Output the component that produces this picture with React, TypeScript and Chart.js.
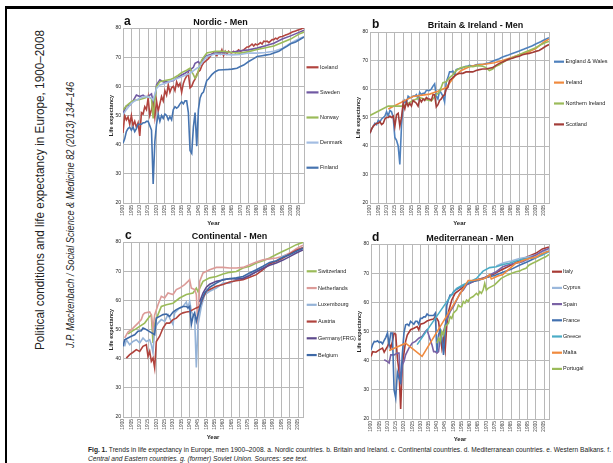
import React, { useEffect, useRef } from "react";
import { Chart, registerables } from "chart.js";
Chart.register(...registerables);

type P = [number, number][];

// ---------- tick labels ----------
const yearTicks = [1900, 1905, 1910, 1915, 1920, 1925, 1930, 1935, 1940, 1945, 1950, 1955, 1960, 1965, 1970, 1975, 1980, 1985, 1990, 1995, 2000, 2005];
const lifeTicks = [20, 30, 40, 50, 60, 70, 80];

// ---------- a. Nordic ----------
const iceland: P = [[1900,44],[1901,50],[1902,48.5],[1903,49.5],[1904,47],[1905,50],[1906,46.5],[1907,48],[1908,46],[1909,47.5],[1910,43],[1911,51],[1912,50.5],[1913,53],[1914,52],[1915,56],[1916,50],[1917,52],[1918,55],[1919,49.5],[1920,55],[1921,51.5],[1922,54],[1923,56.5],[1924,55],[1925,58.5],[1926,57],[1927,60.5],[1928,58],[1929,59.5],[1930,60],[1931,58.5],[1932,61.5],[1933,60],[1934,61],[1935,58],[1936,61],[1937,62.5],[1938,63.5],[1939,64.5],[1940,59.5],[1941,60],[1942,61.5],[1943,62.5],[1944,64],[1945,65],[1946,65.5],[1947,67],[1948,68],[1949,68.5],[1950,69],[1951,69.5],[1952,70.2],[1953,71],[1954,71.5],[1955,71],[1956,70.5],[1957,71.5],[1958,71],[1959,72.5],[1960,70.5],[1961,72],[1962,71],[1963,72],[1964,71.5],[1965,71.5],[1966,72],[1967,71.5],[1968,72],[1969,72.5],[1970,72],[1972,72.5],[1974,73.5],[1975,73.5],[1976,74],[1977,74.5],[1978,73.8],[1979,74.5],[1980,74.2],[1981,74.5],[1982,75],[1983,74.5],[1984,75.5],[1985,75.4],[1986,75.5],[1987,75],[1988,75.5],[1989,76],[1990,76],[1991,76.5],[1992,76.2],[1993,76.8],[1994,77],[1995,77.1],[1996,77.3],[1997,77.6],[1998,77.8],[1999,78],[2000,78.3],[2001,78.6],[2002,78.8],[2003,79],[2004,79.2],[2005,79.4],[2006,79.6],[2007,79.9],[2008,80]];
const sweden: P = [[1900,50.7],[1902,53.3],[1904,53.5],[1905,54.2],[1906,55],[1908,57],[1910,56.5],[1912,57],[1913,56.5],[1915,56.5],[1916,57],[1917,57.4],[1918,54.7],[1919,55.5],[1920,60.5],[1922,62.2],[1924,61.5],[1925,61.6],[1927,61.5],[1930,62],[1932,62.8],[1935,63.9],[1937,64.5],[1940,65.6],[1942,66.5],[1943,67.9],[1945,68.5],[1946,67.5],[1948,69.5],[1950,70.5],[1955,71.4],[1960,71.6],[1965,71.7],[1970,72.2],[1975,72.5],[1980,73.1],[1985,73.9],[1990,74.8],[1995,76.2],[2000,77.3],[2005,78.5],[2008,79.2]];
const norway: P = [[1900,51.9],[1902,53.3],[1905,54.7],[1907,55.2],[1910,55.5],[1913,56],[1915,56.5],[1917,55.8],[1918,49],[1919,55.3],[1920,59.9],[1922,61.6],[1925,62],[1928,62.3],[1930,62.8],[1933,63.8],[1935,64.7],[1938,65.5],[1940,66.2],[1941,65],[1942,64],[1943,62.8],[1944,63.5],[1945,65.5],[1946,67.5],[1947,69.1],[1950,71.4],[1955,72],[1960,72],[1965,71.6],[1970,71.4],[1975,71.9],[1980,72.6],[1985,73.2],[1990,73.8],[1995,75],[2000,76.2],[2005,77.9],[2008,78.6]];
const denmark: P = [[1900,50.2],[1902,52],[1905,54.2],[1907,55],[1910,55.9],[1913,56.5],[1915,56.3],[1917,56],[1918,55.3],[1920,59.3],[1922,60.5],[1925,61],[1930,62.2],[1935,63.3],[1940,64.5],[1944,66.2],[1945,66.5],[1947,68],[1950,70.2],[1955,71.1],[1960,71],[1965,70.8],[1970,70.9],[1975,71.4],[1980,71.4],[1985,71.6],[1990,72],[1995,73],[2000,74.8],[2005,76.3],[2008,77]];
const finland: P = [[1900,40.5],[1901,42],[1902,44.5],[1903,45.5],[1904,46],[1905,45],[1906,46],[1907,44.5],[1908,45.5],[1909,47],[1910,47],[1911,47],[1912,47.5],[1913,47.5],[1914,48],[1915,48],[1916,46.5],[1917,45],[1918,26.5],[1919,41],[1920,47],[1921,50.5],[1922,48],[1923,50],[1924,49],[1925,50.5],[1926,50],[1927,48.5],[1928,49.6],[1929,48.5],[1930,52],[1931,53],[1932,52.5],[1933,53],[1934,54],[1935,54.7],[1936,54],[1937,55],[1938,55],[1939,51],[1940,38],[1941,37],[1942,46],[1943,51],[1944,39.5],[1945,52],[1946,56],[1947,57.5],[1948,58],[1949,60],[1950,62],[1951,62.5],[1952,63.3],[1953,64],[1954,64.5],[1955,65],[1957,65.6],[1960,65.7],[1963,65.8],[1965,65.9],[1968,66.2],[1970,66.8],[1972,67.3],[1975,68.5],[1978,69.5],[1980,70.2],[1983,70.5],[1985,70.7],[1988,71],[1990,71.4],[1993,72],[1995,72.8],[1998,73.8],[2000,74.6],[2003,75.2],[2005,75.9],[2008,76.9]];

// ---------- b. Britain & Ireland ----------
const englandWales: P = [[1900,44.5],[1901,46],[1902,47],[1903,48],[1904,47.5],[1905,49],[1906,48.5],[1907,49.5],[1908,50],[1909,50.5],[1910,52],[1911,50.5],[1912,52.5],[1913,52],[1914,50],[1915,43],[1916,42],[1917,40],[1918,33.5],[1919,47],[1920,54.5],[1921,56],[1922,55],[1923,57.5],[1924,57],[1925,57],[1926,57.5],[1927,57.5],[1928,58],[1929,56.5],[1930,58.8],[1931,58],[1932,58.5],[1933,58.5],[1934,59.5],[1935,59.5],[1936,59.5],[1937,60],[1938,61],[1939,61.8],[1940,57.5],[1941,56.5],[1942,59.5],[1943,58.5],[1944,57.5],[1945,55.5],[1946,62.5],[1947,64],[1948,66],[1949,66],[1950,66.3],[1951,64.8],[1952,66.8],[1953,67],[1954,67.2],[1955,67.2],[1956,67.5],[1957,67.8],[1958,68],[1959,68],[1960,68.3],[1962,68],[1964,68.5],[1966,68.7],[1968,68.6],[1970,68.9],[1972,69.2],[1975,70],[1978,70.6],[1980,71.2],[1983,71.8],[1985,72.3],[1988,72.9],[1990,73.3],[1993,74],[1995,74.5],[1998,75.2],[2000,75.8],[2003,76.6],[2005,77.2],[2008,78]];
const ireland: P = [[1911,53],[1926,57.4],[1936,58.2],[1941,59.2],[1946,60.5],[1951,64.5],[1955,66.5],[1960,67.8],[1963,68.2],[1966,68.5],[1970,68.8],[1975,69.2],[1980,70],[1985,71],[1990,72],[1995,72.8],[2000,74.2],[2005,76.5],[2008,77.5]];
const northernIreland: P = [[1900,50.7],[1911,54],[1920,54],[1926,56],[1930,57],[1934,56.2],[1937,55.8],[1940,58],[1942,59],[1944,62.2],[1946,62.5],[1948,64],[1950,65],[1952,66.5],[1955,67.5],[1958,67.8],[1960,68],[1962,67.8],[1965,68.2],[1968,68],[1970,67.5],[1972,66.5],[1974,67],[1976,68],[1978,68.5],[1980,69.3],[1982,70],[1985,70.8],[1988,71.5],[1990,72],[1993,72.8],[1996,73.5],[2000,74.5],[2003,75.5],[2006,76.3],[2008,76.7]];
const scotland: P = [[1900,44.5],[1901,46],[1902,47],[1903,47.5],[1904,48],[1905,48],[1906,48.5],[1907,47.5],[1908,48],[1909,49.5],[1910,50],[1911,50],[1912,50.5],[1913,50],[1914,50.5],[1915,46.8],[1916,51],[1917,51.5],[1918,47],[1919,50],[1920,55],[1921,53],[1922,55.5],[1923,54],[1924,55],[1925,54],[1926,56],[1927,55.5],[1928,55],[1929,54],[1930,56.5],[1931,55.5],[1932,56.5],[1933,56],[1934,57],[1935,56.5],[1936,56.5],[1937,56],[1938,58],[1939,58],[1940,53.7],[1941,54.5],[1942,56],[1943,56.5],[1944,57.5],[1945,58],[1946,60],[1947,60.5],[1948,63],[1949,63.5],[1950,64],[1952,65],[1954,65.5],[1956,65.5],[1958,66],[1960,66],[1962,66],[1964,66.5],[1966,66.8],[1968,67],[1970,67],[1972,67.3],[1974,67.5],[1976,68.3],[1978,69],[1980,69.5],[1982,70],[1984,70.5],[1986,70.8],[1988,71.2],[1990,71.5],[1992,72],[1994,72.3],[1996,72.5],[1998,72.8],[2000,73.2],[2002,73.5],[2004,74.2],[2006,75],[2008,75.6]];

// ---------- c. Continental ----------
const switzerland: P = [[1903,48.5],[1906,49.6],[1908,50.3],[1910,51.1],[1913,52.2],[1916,54.5],[1917,54.9],[1918,45.4],[1919,52],[1921,55.1],[1923,57.9],[1926,58.5],[1930,59],[1934,60.8],[1938,62],[1942,62.5],[1944,64.2],[1945,63],[1948,66.5],[1952,67.7],[1956,68.2],[1960,69],[1964,69.6],[1968,69.9],[1972,71.1],[1976,71.7],[1980,72.8],[1984,73.6],[1988,74.5],[1992,75.7],[1996,76.8],[2000,77.9],[2004,79.1],[2008,79.9]];
const netherlands: P = [[1901,47.1],[1903,49.1],[1906,50.5],[1909,52.2],[1911,53.4],[1912,55.1],[1913,55.7],[1916,56],[1917,55],[1918,50],[1919,55],[1921,58.5],[1923,61.4],[1925,60.8],[1927,62.5],[1930,62],[1932,63.7],[1934,64.2],[1937,65.4],[1939,66.5],[1940,67.1],[1941,64.2],[1943,63.7],[1944,62],[1945,50],[1946,66.5],[1948,69.4],[1952,70.5],[1956,71.3],[1960,71.3],[1964,71.1],[1968,71.1],[1972,71.3],[1976,72.2],[1980,73.1],[1984,73.9],[1988,74.2],[1992,74.5],[1996,75.1],[2000,76.2],[2004,77.7],[2008,78.9]];
const luxembourg: P = [[1901,44.2],[1902,46.5],[1904,44.8],[1906,45.9],[1908,46.5],[1910,45.4],[1912,47.1],[1914,45.9],[1916,46.5],[1917,44.8],[1918,42],[1919,50.5],[1921,52.2],[1923,53.4],[1925,52.8],[1927,55.1],[1929,52.8],[1930,51.7],[1931,55.7],[1934,57.4],[1936,57.9],[1938,59.4],[1939,57.4],[1940,59.7],[1941,56.2],[1943,53.9],[1944,37],[1945,51.7],[1947,57.9],[1949,61.9],[1952,63.1],[1956,64.2],[1960,65.9],[1964,65.9],[1968,67.1],[1972,67.7],[1976,68.8],[1980,69.9],[1984,71.1],[1988,72.8],[1992,73.4],[1996,75.1],[2000,75.9],[2004,77],[2008,78.2]];
const austria: P = [[1902,40.2],[1904,41.4],[1906,42.2],[1908,43.1],[1910,42.5],[1912,44.2],[1914,44.8],[1915,40.8],[1916,42.5],[1917,39.1],[1918,40.2],[1919,36.8],[1920,45.9],[1922,47.7],[1924,50.5],[1926,52.2],[1928,52.2],[1930,53.4],[1932,53.9],[1934,55.1],[1936,55.7],[1938,56],[1940,56.2],[1942,56.8],[1944,57.4],[1946,57.9],[1948,60.8],[1950,63.1],[1952,63.7],[1956,64.8],[1960,65.4],[1964,66.3],[1968,66.7],[1972,67.1],[1976,67.9],[1980,68.8],[1984,70.5],[1988,72.5],[1992,73.4],[1996,74.5],[2000,75.9],[2004,77.2],[2008,78]];
const germany: P = [[1946,59.5],[1948,62.5],[1950,64.5],[1952,65.5],[1956,66.5],[1960,67],[1964,67.5],[1968,67.3],[1972,67.5],[1976,68.5],[1980,69.8],[1984,71],[1988,72],[1992,72.8],[1996,73.8],[2000,75],[2004,76.2],[2008,77.3]];
const belgium: P = [[1900,44.2],[1901,46.5],[1903,47.1],[1905,47.7],[1907,48.2],[1909,49.4],[1911,49.6],[1912,50.5],[1913,50.3],[1919,48.2],[1920,53.9],[1922,54.5],[1924,55.1],[1926,55.3],[1928,54.5],[1930,56],[1932,56.8],[1934,57.4],[1936,57.9],[1938,57.9],[1939,57.4],[1940,57.9],[1941,51.7],[1942,54.5],[1943,55.7],[1944,52.8],[1945,55.1],[1947,59.7],[1949,62.5],[1952,64.5],[1956,65.9],[1960,67.1],[1964,67.4],[1968,67.7],[1972,68.2],[1976,69.4],[1980,70.5],[1984,71.7],[1988,73],[1992,73.6],[1996,74.8],[2000,75.6],[2004,76.8],[2008,77.8]];

// ---------- d. Mediterranean ----------
const italy: P = [[1900,41.4],[1901,43.1],[1903,42.9],[1905,43.7],[1907,44.3],[1908,42.9],[1910,44.9],[1911,46],[1912,44.3],[1913,46.6],[1914,49.4],[1915,49.1],[1916,40.9],[1917,36.3],[1918,23.4],[1919,38.6],[1920,42.6],[1921,46.6],[1922,48.8],[1924,50.6],[1926,51.1],[1928,51.7],[1929,50.6],[1930,52.5],[1932,52.8],[1934,53.6],[1936,54],[1938,54.3],[1939,55.1],[1940,54.5],[1941,53.4],[1942,48.8],[1943,44.3],[1944,47.7],[1945,43.7],[1946,52.3],[1947,56.8],[1949,60.8],[1951,63.1],[1955,64.8],[1959,66.5],[1963,67.3],[1967,68.2],[1971,68.8],[1975,69.9],[1979,71.1],[1983,72.2],[1987,73.4],[1991,74.5],[1995,75.6],[2000,76.8],[2004,78.3],[2008,79]];
const cyprus: P = [[1976,72.5],[1980,73.5],[1985,74.2],[1990,75],[1995,75.5],[2000,76.2],[2005,77.6],[2008,78.4]];
const spain: P = [[1908,40.3],[1910,39.7],[1911,39.2],[1912,42],[1914,42],[1916,42.6],[1917,42.6],[1918,32],[1919,38.6],[1920,39.7],[1921,42],[1923,44.3],[1925,46],[1927,46.6],[1929,47.7],[1931,48.3],[1933,50],[1934,50.6],[1935,48.8],[1937,45.4],[1938,43.1],[1939,43.1],[1940,42.6],[1941,43.1],[1942,47.7],[1944,50],[1946,54],[1948,56.8],[1950,58.5],[1952,60.8],[1954,63.1],[1956,64.2],[1958,66],[1960,66.5],[1964,67.7],[1968,68.2],[1972,69.4],[1976,70.5],[1980,72.2],[1984,73],[1988,73.4],[1992,73.9],[1996,75.1],[2000,76.2],[2004,77.6],[2008,78.5]];
const france: P = [[1900,43.7],[1901,45.5],[1902,46.6],[1903,46.5],[1904,46.8],[1905,46.2],[1906,46.4],[1907,45.8],[1908,47],[1909,48],[1910,49.5],[1911,45.5],[1912,49.5],[1913,49.5],[1914,30],[1915,27.2],[1916,36],[1917,34],[1918,32.5],[1919,42],[1920,49.5],[1921,52.3],[1922,52.5],[1923,52],[1924,53.5],[1925,53],[1926,52.5],[1927,53.5],[1928,53.5],[1929,52.5],[1930,54.5],[1931,54.5],[1932,55],[1933,55],[1934,56],[1935,55.5],[1936,55.5],[1937,55.5],[1938,55.5],[1939,56.3],[1940,43],[1941,49],[1942,50.5],[1943,48],[1944,42],[1945,50.5],[1946,59],[1947,61],[1948,62.5],[1949,62.5],[1950,63.5],[1952,64.5],[1955,65.5],[1960,67],[1965,67.5],[1970,68.5],[1975,69.2],[1980,70.3],[1985,71.3],[1990,72.7],[1995,73.9],[2000,75.3],[2005,76.8],[2008,77.6]];
const greece: P = [[1928,45.5],[1950,63.5],[1952,64.8],[1956,66],[1960,67.1],[1964,68.2],[1968,70.7],[1972,71.9],[1976,72.2],[1980,73],[1984,73.4],[1988,74.2],[1992,74.8],[1996,75.1],[2000,75.3],[2004,76.2],[2008,77.4]];
const malta: P = [[1911,43.5],[1921,46],[1931,41.5],[1959,67.5],[1962,67.5],[1965,67.8],[1968,68],[1970,68.5],[1972,69.5],[1973,68],[1975,68.5],[1977,69],[1980,69.5],[1982,70.5],[1985,72],[1988,73.5],[1990,73.8],[1993,74.5],[1996,75],[2000,75.5],[2003,76.5],[2006,77.2],[2008,77.5]];
const portugal: P = [[1940,46],[1941,47.7],[1942,46.6],[1943,50],[1944,48.8],[1945,51.7],[1946,52.3],[1947,52.8],[1948,55.1],[1949,54.5],[1950,56.3],[1952,57.4],[1953,59.1],[1954,58.5],[1955,58.5],[1956,60.3],[1957,59.7],[1958,60.8],[1959,60.3],[1960,61.4],[1962,62],[1964,63.1],[1965,62.5],[1966,63.7],[1967,63.1],[1968,64.2],[1969,66.5],[1970,64.2],[1971,64.8],[1973,65.4],[1975,66],[1977,67.1],[1979,68.2],[1981,68.8],[1983,69.4],[1985,69.9],[1988,70.5],[1990,70.7],[1992,71.3],[1994,71.7],[1996,72.8],[1998,73.4],[2000,73.9],[2002,74.5],[2004,75.1],[2006,75.6],[2008,76.4]];

// ---------- layout / style ----------
const GRID = "#b8b8b8";
const FONT = "'Liberation Sans', Arial, sans-serif";

interface Series { label: string; color: string; data: P }
interface Panel {
  letter: string; title: string; series: Series[];
  left: number; top: number; w: number; h: number;
  pad: [number, number, number, number];
  titleX: number; titleY: number; letterX: number; letterY: number;
  legX: number; legLen: number; legTextX: number; legY0: number; legDy: number;
}

const panels: Panel[] = [
  {
    letter: "a", title: "Nordic - Men",
    series: [
      { label: "Iceland", color: "#b2443f", data: iceland },
      { label: "Sweden", color: "#7059a3", data: sweden },
      { label: "Norway", color: "#9bbb59", data: norway },
      { label: "Denmark", color: "#a3bde2", data: denmark },
      { label: "Finland", color: "#4674b0", data: finland },
    ],
    left: 95, top: 8, w: 265, h: 222, pad: [13, 20, 56, 3],
    titleX: 220.5, titleY: 25, letterX: 124, letterY: 24.5,
    legX: 306.5, legLen: 12, legTextX: 320, legY0: 67.3, legDy: 25.1,
  },
  {
    letter: "b", title: "Britain & Ireland - Men",
    series: [
      { label: "England & Wales", color: "#4f81bd", data: englandWales },
      { label: "Ireland", color: "#f08a3e", data: ireland },
      { label: "Northern Ireland", color: "#9bbb59", data: northernIreland },
      { label: "Scotland", color: "#a33d38", data: scotland },
    ],
    left: 340, top: 8, w: 273, h: 222, pad: [15, 24, 64, 3],
    titleX: 475.5, titleY: 28, letterX: 372, letterY: 28,
    legX: 554, legLen: 10, legTextX: 565.5, legY0: 61.7, legDy: 20.9,
  },
  {
    letter: "c", title: "Continental - Men",
    series: [
      { label: "Switzerland", color: "#9bbb59", data: switzerland },
      { label: "Netherlands", color: "#dc9b98", data: netherlands },
      { label: "Luxembourg", color: "#95b3d7", data: luxembourg },
      { label: "Austria", color: "#b0433d", data: austria },
      { label: "Germany(FRG)", color: "#5d4a8c", data: germany },
      { label: "Belgium", color: "#3d68a6", data: belgium },
    ],
    left: 95, top: 225, w: 265, h: 220, pad: [13, 17, 57, 4],
    titleX: 229.5, titleY: 238.5, letterX: 125, letterY: 238.5,
    legX: 306.7, legLen: 10, legTextX: 318, legY0: 271.3, legDy: 16.75,
  },
  {
    letter: "d", title: "Mediterranean - Men",
    series: [
      { label: "Italy", color: "#a83a35", data: italy },
      { label: "Cyprus", color: "#9bb8dc", data: cyprus },
      { label: "Spain", color: "#7a62a5", data: spain },
      { label: "France", color: "#4371b0", data: france },
      { label: "Greece", color: "#4bacc6", data: greece },
      { label: "Malta", color: "#f08a3e", data: malta },
      { label: "Portugal", color: "#9bbb59", data: portugal },
    ],
    left: 340, top: 225, w: 273, h: 220, pad: [16, 19, 64, 2],
    titleX: 470, titleY: 240.5, letterX: 372, letterY: 241,
    legX: 552, legLen: 10, legTextX: 563, legY0: 271.7, legDy: 16.2,
  },
];

function decor(p: Panel) {
  return {
    id: "decor" + p.letter,
    beforeDatasetsDraw(chart: any) {
      const { ctx, chartArea: a } = chart;
      ctx.save();
      ctx.strokeStyle = GRID;
      ctx.lineWidth = 1;
      const x = Math.round(a.right) + 0.5;
      ctx.beginPath();
      ctx.moveTo(x, a.top);
      ctx.lineTo(x, a.bottom);
      ctx.stroke();
      ctx.restore();
    },
    afterDraw(chart: any) {
      const ctx = chart.ctx as CanvasRenderingContext2D;
      const ox = p.left, oy = p.top;
      ctx.save();
      ctx.fillStyle = "#111";
      ctx.textBaseline = "alphabetic";
      ctx.textAlign = "center";
      ctx.font = `bold 9px ${FONT}`;
      ctx.fillText(p.title, p.titleX - ox, p.titleY - oy);
      ctx.textAlign = "left";
      ctx.font = `bold 12px ${FONT}`;
      ctx.fillText(p.letter, p.letterX - ox, p.letterY - oy);
      ctx.font = `5.5px ${FONT}`;
      ctx.textBaseline = "middle";
      chart.data.datasets.forEach((ds: any, i: number) => {
        const y = p.legY0 + i * p.legDy - oy;
        ctx.strokeStyle = ds.borderColor;
        ctx.lineWidth = 2.2;
        ctx.beginPath();
        ctx.moveTo(p.legX - ox, y);
        ctx.lineTo(p.legX + p.legLen - ox, y);
        ctx.stroke();
        ctx.fillStyle = "#222";
        ctx.fillText(ds.label, p.legTextX - ox, y);
      });
      ctx.restore();
    },
  };
}

function LinePanel({ p }: { p: Panel }) {
  const ref = useRef<HTMLCanvasElement>(null);
  useEffect(() => {
    const c = ref.current;
    if (!c) return;
    const n = p.series.length;
    const chart = new Chart(c, {
      type: "line",
      data: {
        datasets: p.series.map((s, i) => ({
          label: s.label,
          data: s.data.map(([x, y]) => ({ x, y })),
          borderColor: s.color,
          backgroundColor: s.color,
          borderWidth: 1.6,
          pointRadius: 0,
          tension: 0,
          fill: false,
          order: n - i,
        })),
      },
      options: {
        animation: false,
        responsive: false,
        devicePixelRatio: 1,
        events: [],
        layout: { padding: { left: p.pad[0], top: p.pad[1], right: p.pad[2], bottom: p.pad[3] } },
        plugins: { legend: { display: false }, tooltip: { enabled: false }, title: { display: false } },
        scales: {
          x: {
            type: "linear",
            min: 1900,
            max: 2008,
            afterBuildTicks: (s: any) => { s.ticks = yearTicks.map((v) => ({ value: v })); },
            afterFit: (s: any) => { s.height = 24; s.paddingLeft = 0; s.paddingRight = 0; },
            ticks: {
              autoSkip: false, minRotation: 90, maxRotation: 90, padding: 2,
              font: { size: 4.8, family: FONT }, color: "#444",
              callback: (v: any) => String(v),
            },
            grid: { color: GRID, drawTicks: false, lineWidth: 1 },
            border: { color: GRID },
            title: { display: true, text: "Year", font: { size: 6, weight: "bold", family: FONT }, color: "#222", padding: 0 },
          },
          y: {
            type: "linear",
            min: 20,
            max: 80,
            afterBuildTicks: (s: any) => { s.ticks = lifeTicks.map((v) => ({ value: v })); },
            afterFit: (s: any) => { s.width = 15; s.paddingTop = 0; s.paddingBottom = 0; },
            ticks: { padding: 2, font: { size: 5, family: FONT }, color: "#222", callback: (v: any) => String(v) },
            grid: { color: GRID, drawTicks: false, lineWidth: 1 },
            border: { color: GRID },
            title: { display: true, text: "Life expectancy", font: { size: 5.5, weight: "bold", family: FONT }, color: "#222", padding: 0 },
          },
        },
      } as any,
      plugins: [decor(p)],
    });
    return () => chart.destroy();
  }, [p]);
  return (
    <canvas
      ref={ref}
      width={p.w}
      height={p.h}
      style={{ position: "absolute", left: p.left, top: p.top, width: p.w, height: p.h, display: "block" }}
    />
  );
}

const sideTitle = "Political conditions and life expectancy in Europe, 1900–2008";
const sideSource = "J.P. Mackenbach / Social Science & Medicine 82 (2013) 134–146";
const captionLine1 = "Trends in life expectancy in Europe, men 1900–2008. a. Nordic countries. b. Britain and Ireland. c. Continental countries. d. Mediterranean countries. e. Western Balkans. f.";
const captionLine2 = "Central and Eastern countries. g. (former) Soviet Union. Sources: see text.";

export default function App() {
  return (
    <div style={{ position: "absolute", left: 0, top: 0, width: 613, height: 463, background: "#fff", overflow: "hidden" }}>
      <svg width={613} height={463} style={{ position: "absolute", left: 0, top: 0 }}>
        <rect x={0} y={0} width={613} height={463} fill="#fff" />
        <rect x={5} y={6} width={608} height={3} fill="#000" />
        <rect x={5} y={6} width={2} height={457} fill="#000" />
        <text
          transform="translate(43.5,350) rotate(-90)"
          fontFamily="'Liberation Sans Narrow', 'Liberation Sans', Arial, sans-serif"
          fontSize={13.5}
          fill="#222"
          textLength={320}
          lengthAdjust="spacingAndGlyphs"
        >{sideTitle}</text>
        <text
          transform="translate(73.5,348) rotate(-90)"
          fontFamily="'Liberation Sans Narrow', 'Liberation Sans', Arial, sans-serif"
          fontStyle="italic"
          fontSize={10.5}
          fill="#222"
          textLength={266}
          lengthAdjust="spacingAndGlyphs"
        >{sideSource}</text>
        <text x={88} y={452} fontFamily={FONT} fontSize={6.3} fill="#222" textLength={523} lengthAdjust="spacingAndGlyphs">
          <tspan fontWeight="bold">Fig. 1.</tspan>
          <tspan> {captionLine1}</tspan>
        </text>
        <text x={88} y={461} fontFamily={FONT} fontSize={6.3} fontStyle="italic" fill="#222" textLength={220} lengthAdjust="spacingAndGlyphs">
          {captionLine2}
        </text>
      </svg>
      {panels.map((p) => (
        <LinePanel key={p.letter} p={p} />
      ))}
    </div>
  );
}
